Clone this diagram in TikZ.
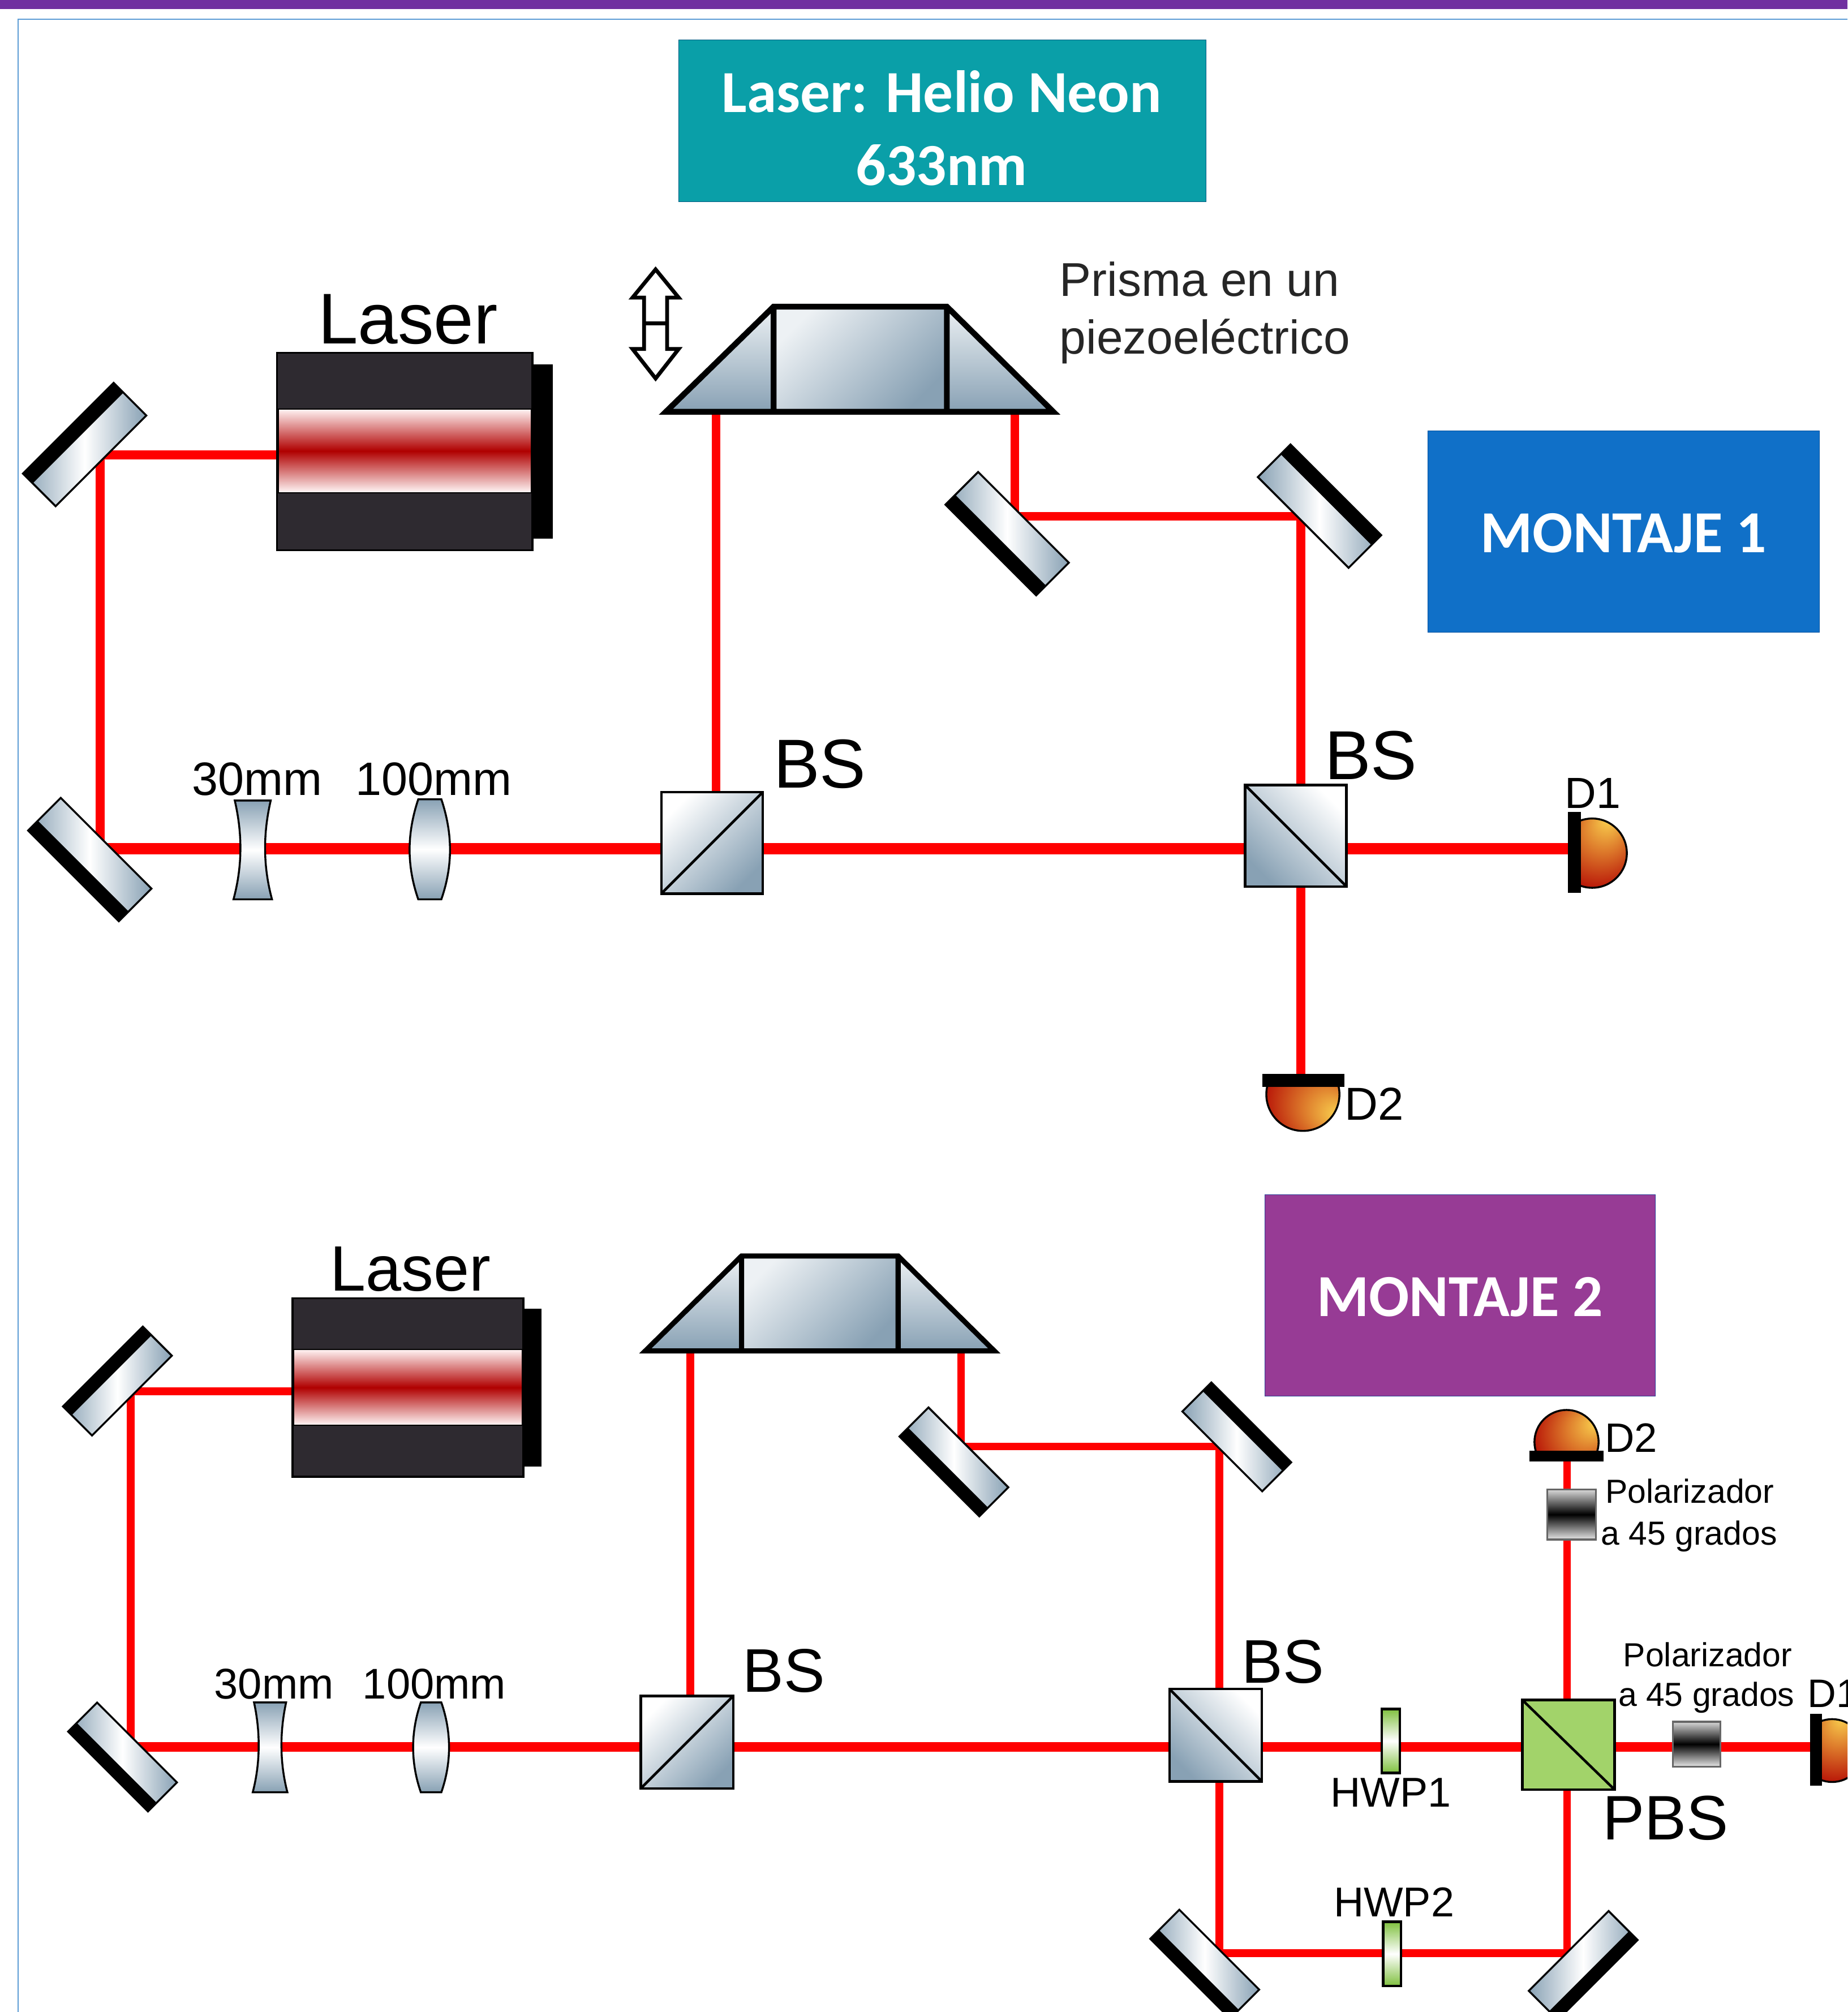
\documentclass[tikz,border=0pt]{standalone}
\usepackage{fontspec}
\setmainfont{Liberation Sans}
\newfontfamily\boxfont{Carlito}
\usetikzlibrary{calc,backgrounds}

\definecolor{glassdark}{HTML}{88A1B4}
\definecolor{glasslight}{HTML}{EDF1F4}
\definecolor{laserbody}{HTML}{2E2A30}
\definecolor{laserred}{HTML}{B00000}
\definecolor{domeyellow}{HTML}{FAD24F}
\definecolor{domeorange}{HTML}{DD7A2B}
\definecolor{domered}{HTML}{B00000}
\definecolor{hwpgreen}{HTML}{7FC03E}

\pgfdeclareradialshading{domeglow}{\pgfpoint{0bp}{28bp}}{color(0bp)=(domeyellow); color(16bp)=(domeorange); color(38bp)=(domered); color(50bp)=(domered)}

\tikzset{
	lbl/.style={font=\fontsize{#1}{#1}\selectfont, inner sep=0pt, outer sep=0pt},
	titlebox/.style={inner sep=0pt, outer sep=0pt},
	titletext/.style={inner sep=0pt, outer sep=0pt, text=white, font=\boxfont\bfseries\fontsize{46.5}{57}\selectfont, align=center},
	beam/.style={draw=red, line width=6.8pt},
	mirrorglass/.style={draw=black, line width=1.5pt, inner sep=0pt, outer sep=0pt, left color=glassdark, right color=glassdark, middle color=white},
	cube/.style={draw=black, line width=2pt, inner sep=0pt, outer sep=0pt, minimum width=#1, minimum height=#1},
	polbox/.style={draw=black!60, line width=1.5pt, inner sep=0pt, outer sep=0pt, top color=black!15, bottom color=black!10, middle color=black},
	hwpbox/.style={draw=black, line width=2pt, inner sep=0pt, outer sep=0pt, minimum width=14pt, minimum height=50pt, top color=hwpgreen, bottom color=hwpgreen, middle color=white},
	lensglass/.style={draw=black, line width=1.5pt, top color=glassdark, bottom color=glassdark, middle color=white},
	dome/.style={draw=black, line width=1.5pt, shading=domeglow},
}

% name, x, y, angle, long side, short side
\newcommand{\mirror}[6]{
	\node[mirrorglass, rotate=#4, minimum width=#5pt, minimum height=#6pt] (#1) at (#2,#3) {};
	\fill (#1.north west) -- (#1.north east) -- ($(#1.north east)!.3!(#1.south east)$) -- ($(#1.north west)!.3!(#1.south west)$) -- cycle;
}
% left corner, top left, top right, right corner, top y, base y, line width
\newcommand{\prismshape}[7]{
	\shade[top color=glasslight, bottom color=glassdark] (#1,#6) -- (#2,#5) -- (#2,#6) -- cycle;
	\shade[top color=glasslight, bottom color=glassdark] (#4,#6) -- (#3,#5) -- (#3,#6) -- cycle;
	\shade[top color=glasslight, bottom color=glassdark, shading angle=45] (#2,#5) rectangle (#3,#6);
	\draw[line width=#7pt, line join=miter] (#1,#6) -- (#2,#5) -- (#3,#5) -- (#4,#6) -- cycle (#2,#5) -- (#2,#6) (#3,#5) -- (#3,#6);
}
% x, y, radius, clip corners, glow angle
\newcommand{\detdome}[6]{
	\begin{scope}
		\clip (#4) rectangle (#5);
		\path[dome, shading angle=#6] (#1,#2) circle (#3pt);
	\end{scope}
}

\begin{document}
\begin{tikzpicture}[x=1pt, y=-1pt]
	
	\useasboundingbox (0,0) rectangle (1440,1568.3);
	\clip (0,0) rectangle (1440,1568.3);
	
	\fill[color={rgb,255:red,112;green,48;blue,160}] (0,0) rectangle (1440,7);
	\draw[color={rgb,255:red,91;green,155;blue,213}, line width=1pt] (1440,15) -- (14,15) -- (14,1568.3);
	
	\node[titlebox, draw={rgb,255:red,0;green,90;blue,130}, fill={rgb,255:red,10;green,159;blue,168}, minimum width=411pt, minimum height=126pt] (heliobox) at (734.5,94) {};
	\node[titletext] (heliotext) at (734,100) {Laser: Helio Neon\\633nm};
	\node[titlebox, draw={rgb,255:red,0;green,80;blue,160}, fill={rgb,255:red,16;green,112;blue,200}, minimum width=305pt, minimum height=157pt] (montajeA) at (1265.5,414.5) {};
	\node[titletext] (montajeAtext) at (1265.5,415.5) {MONTAJE 1};
	\node[titlebox, draw={rgb,255:red,40;green,60;blue,150}, fill={rgb,255:red,151;green,59;blue,149}, minimum width=304pt, minimum height=157pt] (montajeB) at (1138,1009.5) {};
	\node[titletext] (montajeBtext) at (1138,1011) {MONTAJE 2};
	
	% first setup
	\node[fill=laserbody, draw=black, line width=1.5pt, inner sep=0pt, outer sep=0pt, minimum width=199pt, minimum height=154pt] (laserA) at (315.5,352) {};
	\node[fill=black, inner sep=0pt, outer sep=0pt, minimum width=16pt, minimum height=136pt] (capA) at (423,352) {};
	\node[draw=black, line width=1pt, inner sep=0pt, outer sep=0pt, minimum width=197pt, minimum height=65pt, top color=red!5!white, bottom color=red!3!white, middle color=laserred] (tubeA) at (315.5,351.5) {};
	\node[lbl=56, anchor=base] (laserAtext) at (318,268) {Laser};
	
	\mirror{mirrorA}{66}{346.5}{45}{100}{36}
	\mirror{mirrorB}{70}{670}{135}{100}{36}
	\mirror{mirrorC}{785}{416}{135}{100}{36}
	\mirror{mirrorD}{1028.5}{394.5}{-45}{100}{36}
	
	\shade[lensglass] (183,624) -- (211,624) .. controls (205,650) and (205,675) .. (212,701) -- (182,701) .. controls (189,675) and (189,650) .. (183,624) -- cycle;
	\shade[lensglass] (326,623) -- (344,623) .. controls (353,650) and (353,675) .. (344,701) -- (326,701) .. controls (317,675) and (317,650) .. (326,623) -- cycle;
	\node[lbl=36.5, anchor=base] (lensAa) at (200.5,620) {30mm};
	\node[lbl=36.5, anchor=base] (lensAb) at (338,620) {100mm};
	
	\node[cube=79pt, top color=white, bottom color=glassdark, shading angle=45] (bsA) at (555,657) {};
	\draw[line width=2pt] (bsA.south west) -- (bsA.north east);
	\node[cube=79pt, top color=white, bottom color=glassdark, shading angle=-45] (bsB) at (1010,651.5) {};
	\draw[line width=2pt] (bsB.north west) -- (bsB.south east);
	\node[lbl=54, anchor=base] (bsAtext) at (639,614) {BS};
	\node[lbl=54, anchor=base] (bsBtext) at (1068.5,607.5) {BS};
	
	\prismshape{519}{603}{738}{821}{239}{321}{4.5}
	\coordinate (prismAl) at (558,321);
	\coordinate (prismAr) at (791,321);
	
	\filldraw[fill=white, line width=3pt] (511,210) -- (529,232) -- (520,232) -- (520,272) -- (529,272) -- (511,295) -- (493,272) -- (502,272) -- (502,232) -- (493,232) -- cycle;
	\draw[line width=3pt] (502,252) -- (520,252);
	
	\node[lbl=37, anchor=base west, color=black!85] (prismaAa) at (826,231) {Prisma en un};
	\node[lbl=37, anchor=base west, color=black!85] (prismaAb) at (826,276) {piezoeléctrico};
	
	\detdome{1241}{665}{27}{1232,630}{1275,700}{-25}
	\node[fill=black, inner sep=0pt, outer sep=0pt, minimum width=10pt, minimum height=63pt] (detAa) at (1227,664.5) {};
	\node[lbl=34, anchor=base] (detAatext) at (1241.5,630) {D1};
	\detdome{1015.5}{853}{28.5}{980,845}{1050,885}{-121}
	\node[fill=black, inner sep=0pt, outer sep=0pt, minimum width=64pt, minimum height=10pt] (detAb) at (1016,842) {};
	\node[lbl=36, anchor=base] (detAbtext) at (1071,873) {D2};
	
	% second setup
	\node[fill=laserbody, draw=black, line width=1.5pt, inner sep=0pt, outer sep=0pt, minimum width=180pt, minimum height=139pt] (laserB) at (318,1081.5) {};
	\node[fill=black, inner sep=0pt, outer sep=0pt, minimum width=14pt, minimum height=123pt] (capB) at (415,1081.5) {};
	\node[draw=black, line width=1pt, inner sep=0pt, outer sep=0pt, minimum width=178pt, minimum height=59pt, top color=red!5!white, bottom color=red!3!white, middle color=laserred] (tubeB) at (318,1081.5) {};
	\node[lbl=50, anchor=base] (laserBtext) at (320,1006) {Laser};
	
	\mirror{mirrorE}{91.5}{1076.5}{45}{88}{32}
	\mirror{mirrorF}{95.5}{1369.5}{135}{88}{32}
	\mirror{mirrorG}{743.5}{1139.5}{135}{88}{32}
	\mirror{mirrorH}{964}{1120}{-45}{88}{32}
	\mirror{mirrorI}{939}{1531}{135}{88}{32}
	\mirror{mirrorJ}{1234}{1532}{225}{88}{32}
	
	\shade[lensglass] (198,1327) -- (223,1327) .. controls (218,1350) and (218,1374) .. (224,1397) -- (197,1397) .. controls (203,1374) and (203,1350) .. (198,1327) -- cycle;
	\shade[lensglass] (328,1327) -- (344,1327) .. controls (352,1350) and (352,1374) .. (344,1397) -- (328,1397) .. controls (320,1374) and (320,1350) .. (328,1327) -- cycle;
	\node[lbl=33.5, anchor=base] (lensBa) at (213.5,1324) {30mm};
	\node[lbl=33.5, anchor=base] (lensBb) at (338.5,1324) {100mm};
	
	\node[cube=72pt, top color=white, bottom color=glassdark, shading angle=45] (bsC) at (535.5,1358) {};
	\draw[line width=2pt] (bsC.south west) -- (bsC.north east);
	\node[cube=72pt, top color=white, bottom color=glassdark, shading angle=-45] (bsD) at (947.5,1352.5) {};
	\draw[line width=2pt] (bsD.north west) -- (bsD.south east);
	\node[lbl=48, anchor=base] (bsCtext) at (611,1319) {BS};
	\node[lbl=48, anchor=base] (bsDtext) at (1000,1312) {BS};
	
	\prismshape{503}{578}{700}{775}{979}{1053}{4}
	\coordinate (prismBl) at (538,1053);
	\coordinate (prismBr) at (749,1053);
	
	\node[draw=black, line width=2pt, inner sep=0pt, outer sep=0pt, fill={rgb,255:red,162;green,211;blue,106}, minimum width=72pt, minimum height=70pt] (pbs) at (1222.5,1360) {};
	\draw[line width=2pt] (pbs.north west) -- (pbs.south east);
	\node[lbl=49, anchor=base west] (pbstext) at (1249,1434) {PBS};
	
	\node[hwpbox] (hwpA) at (1084,1357) {};
	\node[hwpbox] (hwpB) at (1085,1523) {};
	\node[lbl=32.5, anchor=base] (hwpAtext) at (1084,1408.5) {HWP1};
	\node[lbl=32.5, anchor=base] (hwpBtext) at (1086.5,1494) {HWP2};
	
	\node[polbox, minimum width=38pt, minimum height=39pt] (polA) at (1225,1180.5) {};
	\node[polbox, minimum width=37pt, minimum height=35pt] (polB) at (1322.5,1359.5) {};
	\node[lbl=26, anchor=base] (polAa) at (1317,1171.5) {Polarizador};
	\node[lbl=26, anchor=base] (polAb) at (1316.5,1204) {a 45 grados};
	\node[lbl=26, anchor=base] (polBa) at (1331,1299) {Polarizador};
	\node[lbl=26, anchor=base] (polBb) at (1330,1330) {a 45 grados};
	
	\detdome{1221}{1124}{25}{1190,1095}{1250,1133}{-57}
	\node[fill=black, inner sep=0pt, outer sep=0pt, minimum width=58pt, minimum height=8pt] (detBb) at (1221,1135) {};
	\node[lbl=32, anchor=base west] (detBbtext) at (1251,1132) {D2};
	\detdome{1428}{1364.5}{24.5}{1418,1335}{1460,1395}{-16}
	\node[fill=black, inner sep=0pt, outer sep=0pt, minimum width=9pt, minimum height=56pt] (detBa) at (1415.5,1364) {};
	\node[lbl=31, anchor=base west] (detBatext) at (1409,1331) {D1};
	
	% beams go under everything
	\coordinate (hitA) at (78,354.5);
	\coordinate (hitB) at (78,661.5);
	\coordinate (hitC) at (791,402.5);
	\coordinate (hitD) at (1014,402.5);
	\coordinate (hitE) at (102,1084.5);
	\coordinate (hitF) at (102,1361.5);
	\coordinate (hitG) at (749,1127.5);
	\coordinate (hitH) at (950.5,1127.5);
	\coordinate (hitI) at (950.5,1522.5);
	\coordinate (hitJ) at (1221.5,1522.5);
	
	\begin{scope}[on background layer]
		\draw[beam] (laserA.west |- hitA) -- (hitA) -- (hitB);
		\draw[beam, line width=8.5pt] (hitB) -- (detAa.west |- hitB);
		\draw[beam] (prismAl) -- (prismAl |- bsA.north);
		\draw[beam] (prismAr) -- (hitC) -- (hitD) -- (hitD |- detAb.north);
		\draw[beam, line width=6pt] (laserB.west |- hitE) -- (hitE) -- (hitF);
		\draw[beam, line width=7.5pt] (hitF) -- (detBa.west |- hitF);
		\draw[beam, line width=6pt] (prismBl) -- (prismBl |- bsC.north);
		\draw[beam, line width=6pt] (prismBr) -- (hitG) -- (hitH) -- (hitI) -- (hitJ) -- (hitJ |- detBb.south);
	\end{scope}
	
\end{tikzpicture}
\end{document}
